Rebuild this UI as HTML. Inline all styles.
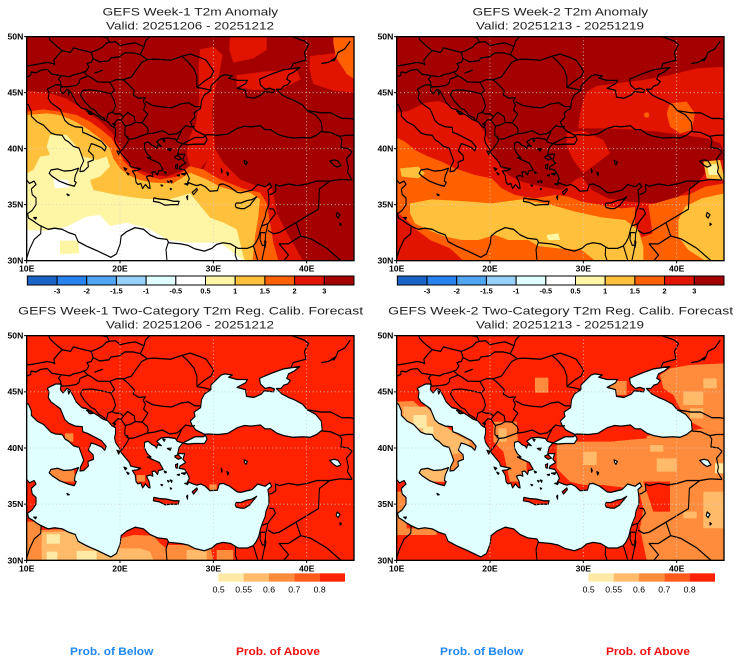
<!DOCTYPE html>
<html><head><meta charset="utf-8"><style>
html,body{margin:0;padding:0;background:#fff;}
svg{display:block;}
text{font-family:"Liberation Sans",Arial,sans-serif;}
</style></head><body>
<svg width="740" height="662" viewBox="0 0 2220 1986" xmlns="http://www.w3.org/2000/svg">
<defs>
<clipPath id="clipT"><rect x="80" y="110" width="982" height="672"/></clipPath>
<clipPath id="clipB"><rect x="80" y="122" width="982" height="674"/></clipPath>
<path id="med" fill-rule="evenodd" d="M9,44.3 L10.2,43.9 10.5,43.3 10.5,42.9 11.1,42.4 11.8,42.1 12.6,41.4 13.1,41.25 13.8,41.2 14.1,40.8 14.5,40.6 15.0,40.2 15.6,40.05 15.8,39.6 16.1,38.9 15.75,38.3 15.7,37.95 16.1,38.0 16.6,38.4 16.55,38.8 17.15,39.0 17.1,39.4 16.6,39.8 16.9,40.45 17.3,40.35 18.0,40.1 18.35,39.8 18.5,40.15 18.0,40.65 17.2,41.0 16.5,41.3 16.0,41.45 15.95,41.9 15.2,41.95 14.5,42.2 14.1,42.5 13.6,43.5 12.6,44.1 12.3,44.5 12.4,45.0 12.2,45.3 12.6,45.5 13.1,45.7 13.7,45.7 13.6,45.2 13.9,44.9 14.3,45.3 14.6,45.2 15.0,44.6 15.3,44.1 15.9,43.6 16.4,43.5 17.0,43.2 17.6,42.9 18.1,42.6 18.7,42.4 19.1,42.0 19.5,41.8 19.5,41.3 19.4,40.9 19.5,40.5 19.9,40.0 20.1,39.6 20.6,39.1 21.0,38.7 21.1,38.4 21.6,38.3 22.2,38.2 21.8,38.05 21.3,38.0 21.6,37.6 21.7,37.0 21.9,36.8 22.2,36.9 22.4,36.45 22.7,36.8 23.0,36.5 23.2,36.45 23.1,37.0 22.8,37.5 23.2,37.6 23.5,37.5 23.4,37.9 23.7,37.95 24.0,37.65 24.1,38.0 24.6,38.1 24.2,38.7 23.4,39.0 22.9,39.2 23.3,39.2 22.9,39.5 22.6,40.0 22.6,40.5 23.0,40.6 23.4,40.3 23.7,40.2 23.9,40.0 24.0,40.3 24.4,40.2 23.9,40.6 24.4,40.9 25.1,40.95 25.9,40.85 26.1,40.6 26.7,40.45 26.3,40.05 26.15,39.5 26.9,39.5 26.7,39.0 27.0,38.7 26.4,38.4 26.3,38.2 26.9,38.1 27.2,37.7 27.4,37.3 27.2,37.0 27.8,36.8 28.2,36.7 28.6,36.8 29.1,36.6 29.6,36.2 30.4,36.25 30.6,36.8 31.0,36.85 31.7,36.6 32.5,36.1 32.9,36.05 33.6,36.2 34.1,36.3 34.7,36.8 35.5,36.6 36.0,36.9 36.2,36.6 35.8,36.3 35.9,35.6 35.9,35.0 35.6,34.4 35.5,33.9 35.2,33.3 35.0,32.8 34.8,32.1 34.5,31.6 34.2,31.3 33.6,31.1 32.6,31.1 32.2,31.3 31.8,31.5 31.0,31.6 30.3,31.45 29.8,31.1 29.0,30.85 28.0,31.05 27.3,31.35 26.5,31.5 25.2,31.6 25.0,31.9 24.0,32.0 23.2,32.3 22.5,32.8 21.6,32.95 20.7,32.6 20.1,32.2 20.0,31.5 19.6,30.6 19.0,30.3 18.5,30.5 17.5,30.9 16.4,31.3 15.5,31.7 15.2,32.3 14.5,32.5 13.8,32.8 13.0,32.9 12.3,32.8 11.5,33.1 11.1,33.3 10.7,33.55 10.2,33.8 10.1,34.2 10.6,34.5 11.0,35.0 11.0,35.6 10.6,35.9 10.5,36.4 11.0,36.8 10.8,37.1 10.3,36.9 10.0,37.2 9,37.3 Z
M15.55,38.25 L15.2,37.6 15.1,37.1 15.3,37.0 15.1,36.65 14.4,36.8 13.5,37.1 12.7,37.55 12.4,37.8 12.6,38.1 13.3,38.2 14.0,38.0 14.8,38.05 Z
M23.55,35.3 L23.6,35.6 24.2,35.5 25.0,35.45 25.7,35.3 26.3,35.3 26.2,35.0 25.5,35.0 24.8,34.95 24.2,35.2 Z
M32.3,34.95 L32.4,35.15 32.9,35.15 33.5,35.35 34.1,35.45 34.6,35.7 34.0,35.1 33.9,34.95 33.3,34.65 32.9,34.65 32.4,34.75 Z
M27.7,36.1 L28.2,36.45 28.25,36.3 27.85,35.9 Z
M25.85,39.3 L26.2,39.4 26.55,39.1 26.2,39.0 25.85,39.2 Z
M25.9,38.5 L26.15,38.6 26.1,38.2 25.95,38.25 Z
M26.55,37.75 L27.0,37.8 26.9,37.65 Z
M25.05,39.95 L25.45,40.0 25.35,39.8 Z
M24.55,40.8 L24.8,40.75 24.7,40.6 Z
M26.9,36.85 L27.3,36.9 27.2,36.75 Z
M25.35,37.15 L25.55,37.1 25.5,36.95 Z
M24.7,37.95 L24.95,37.85 24.8,37.78 Z
M25.05,37.1 L25.25,37.05 25.15,36.98 Z
M25.35,36.45 L25.5,36.4 25.4,36.33 Z
M24.35,36.75 L24.55,36.72 24.45,36.65 Z
M27.1,35.7 L27.22,35.8 27.2,35.45 Z
M26.1,37.62 L26.35,37.66 26.3,37.56 Z
M20.4,38.3 L20.7,38.2 20.55,38.05 Z
M20.7,37.85 L20.95,37.75 20.85,37.65 Z
M19.65,39.8 L19.95,39.7 19.85,39.45 Z
M14.3,35.95 L14.55,35.85 14.4,35.82 Z
M10.75,33.85 L11.05,33.85 10.95,33.7 Z
M14.4,45.1 L14.6,45.0 14.5,44.8 Z
M16.4,43.35 L16.9,43.3 16.6,43.25 Z
M16.6,43.15 L17.1,43.1 16.8,43.05 Z"/>
<path id="bsea" d="M29.05,41.2 L28.1,41.6 27.7,42.0 27.5,42.4 28.0,42.8 27.9,43.2 28.6,43.6 28.7,44.3 29.0,44.8 29.7,45.2 29.7,45.6 30.3,46.1 30.8,46.5 31.2,46.6 32.0,46.5 31.6,46.3 32.5,46.1 33.6,46.1 33.4,45.8 32.5,45.4 33.4,45.2 33.5,44.6 34.3,44.5 35.1,44.8 35.4,45.1 36.4,45.0 36.5,45.25 36.0,45.4 35.5,45.3 35.0,45.7 34.9,46.2 35.3,46.35 36.3,46.7 37.5,47.05 38.3,47.15 39.2,47.25 38.6,46.85 38.0,46.6 37.8,46.2 38.2,46.0 37.9,45.7 37.5,45.6 37.2,45.3 36.7,45.3 37.3,44.8 38.0,44.5 38.6,44.3 39.5,43.9 40.0,43.4 40.9,43.0 41.5,42.4 41.6,41.6 41.0,41.2 40.3,40.95 39.5,41.0 38.5,40.95 37.5,41.1 36.8,41.3 36.1,41.7 35.5,41.7 35.0,42.05 34.0,41.95 33.3,42.0 32.5,41.8 31.5,41.3 30.5,41.2 29.3,41.25 Z
M26.7,40.45 L27.3,40.7 28.0,41.0 28.9,41.0 29.1,41.15 29.3,40.8 29.0,40.4 28.0,40.4 27.2,40.35 Z"/>
<path id="lakes" d="M42.4,38.9 L42.9,39.0 43.3,38.9 43.6,38.5 43.2,38.35 42.8,38.55 Z
M33.25,38.95 L33.6,38.8 33.45,38.55 33.3,38.7 Z
M31.4,37.9 L31.6,37.8 31.5,37.6 Z
M30.8,38.2 L30.92,38.0 30.85,37.85 Z
M43.2,34.3 L43.5,34.1 43.3,33.8 43.1,34.0 Z
M43.5,33.35 L43.65,33.25 43.5,33.15 Z
M17.3,46.75 L18.1,47.0 17.9,46.95 Z
M35.45,31.75 L35.58,31.7 35.5,31.2 Z
M19.2,42.2 L19.4,42.3 19.5,42.1 Z
M20.7,41.1 L20.82,41.1 20.75,40.9 Z
M42.6,47.9 L43.0,48.1 42.9,47.85 Z"/>
<path id="bord" fill="none" d="M10.0,46.4 L10.45,46.55 10.45,46.85 M10.45,46.85 L11.0,46.77 11.5,47.0 12.2,47.08 12.7,46.65 13.7,46.52 M13.7,46.52 L13.4,46.2 13.65,45.95 13.6,45.6
M9.6,47.55 L10.2,47.4 10.9,47.5 11.6,47.6 12.2,47.7 12.8,47.6 13.0,47.5 12.9,47.9 13.4,48.4 13.8,48.75
M13.8,48.75 L13.0,49.3 12.5,49.7 12.2,50.3 12.9,50.5 13.9,50.8 14.4,51.0 M14.8,50.9 L15.3,50.8 16.3,50.65 16.6,50.2 17.0,50.4 17.7,50.3 18.0,50.0 18.6,49.9 18.85,49.5
M13.8,48.75 L14.7,48.6 15.0,49.0 15.9,48.8 16.9,48.6
M16.9,48.6 L17.5,48.8 18.1,49.05 18.5,49.4 18.85,49.5
M18.85,49.5 L19.5,49.55 20.0,49.2 20.8,49.35 21.6,49.45 22.55,49.1
M16.9,48.6 L17.1,48.05 16.9,47.7 16.45,47.6 16.65,47.3 16.4,46.95 16.1,46.85
M13.7,46.52 L14.6,46.42 15.0,46.6 15.6,46.7 16.1,46.85 16.55,46.5
M16.55,46.5 L15.7,46.2 15.6,45.85 15.3,45.65 14.6,45.55 13.6,45.5
M17.1,48.05 L17.8,47.75 18.8,47.85 19.0,48.1 19.9,48.2 20.5,48.55 21.4,48.55 22.15,48.4
M22.15,48.4 L22.9,47.95 22.3,47.7 21.7,47.0 21.2,46.4 20.3,46.15
M20.3,46.15 L19.6,46.17 18.9,45.93 17.6,45.95 16.9,46.35 16.55,46.5
M18.9,45.93 L19.4,45.2 19.0,44.9
M19.0,44.9 L18.0,45.1 16.9,45.25 16.0,45.2 15.75,44.8 16.2,44.2 16.9,43.6 17.3,43.45 17.7,43.0 18.3,42.7 18.5,42.45
M19.0,44.9 L19.35,44.3 19.5,43.8 19.3,43.4 19.1,43.25
M19.1,43.25 L18.7,43.1 18.5,42.45
M19.1,43.25 L19.5,43.1 20.0,43.1 20.35,42.85 20.1,42.55
M20.1,42.55 L19.75,42.6 19.4,42.3 19.35,41.85
M20.35,42.85 L20.8,43.25 21.5,42.85 21.6,42.35
M20.1,42.55 L20.55,42.0
M20.55,42.0 L21.2,42.15 21.6,42.35 22.35,42.3
M22.35,42.3 L22.9,41.9 23.0,41.6 22.9,41.33
M22.9,41.33 L22.3,41.15 21.5,40.9 20.95,40.85
M20.95,40.85 L20.5,41.2 20.5,41.6 20.55,42.0
M20.95,40.85 L20.7,40.45 20.4,40.1 20.0,39.7
M20.3,46.15 L20.8,45.8 21.5,45.2 21.4,44.8 22.0,44.5 22.7,44.55 22.45,44.25
M22.45,44.25 L22.7,43.9 22.5,43.45 22.95,43.1 22.5,42.5 22.35,42.3
M22.7,44.2 L23.5,43.85 24.5,43.72 25.5,43.65 26.5,44.0 27.3,44.1 28.0,43.75 28.6,43.75
M22.9,47.95 L23.5,48.0 24.5,47.95 25.4,47.9 26.6,48.25
M26.6,48.25 L27.2,47.8 27.9,47.1 28.2,46.4 28.2,45.47
M26.6,48.25 L27.5,48.45 28.5,48.15 29.2,47.9 29.6,47.4 30.0,46.9 29.7,46.4 28.95,46.0 28.2,45.47
M28.2,45.47 L29.0,45.35 29.7,45.2
M22.55,49.1 L22.7,49.6 23.5,50.3 24.1,50.8 24.0,51.2
M22.55,49.1 L22.15,48.4
M35.3,51.0 L35.4,50.6 36.2,50.45 37.5,50.35 38.2,50.05 39.7,49.6 40.15,49.3 39.7,48.6 39.85,47.9 38.5,47.6 38.25,47.15
M22.9,41.33 L23.6,41.4 24.5,41.6 25.3,41.25 26.1,41.35 26.6,41.7
M26.6,41.7 L26.35,41.25 26.05,40.75
M26.6,41.7 L27.0,42.05 27.5,41.95 28.0,41.98
M41.55,41.52 L42.5,41.45 43.45,41.1
M43.45,41.1 L43.7,40.8 43.6,40.1 44.4,40.0 44.8,39.7
M40.0,43.4 L41.5,43.2 42.5,43.2 43.7,42.7 44.5,42.7 45.2,42.6
M43.45,41.1 L44.2,41.2 45.0,41.2 45.5,41.0 M45.0,41.2 L45.1,40.9 45.6,40.6
M44.8,39.7 L44.2,39.1 44.4,38.3 44.3,37.9 44.8,37.2
M44.8,37.2 L43.5,37.25 42.4,37.1
M42.4,37.1 L41.0,37.1 40.0,36.85 39.0,36.7 38.0,36.85 37.0,36.65 36.6,36.8 36.65,36.2 36.2,35.95 35.95,35.9
M42.4,37.1 L41.3,36.4 41.2,34.6 38.8,33.4
M38.8,33.4 L37.0,32.5 36.4,32.4 35.8,32.7
M35.95,34.65 L36.4,34.6 36.6,34.2 36.0,33.55 35.8,33.3
M35.1,33.1 L35.8,33.3 M35.8,33.3 L35.65,32.7
M35.65,32.7 L35.55,32.4 35.5,31.5 35.4,31.0 35.15,30.0 35.0,29.5
M35.5,32.5 L35.0,32.5 34.95,31.9 35.2,31.35 35.5,31.4
M38.8,33.4 L39.3,32.2
M39.3,32.2 L38.0,31.5 37.0,31.5 38.0,30.5 37.5,30.0 36.5,29.5
M39.3,32.2 L40.4,31.95 42.1,31.1 44.7,29.2
M34.25,31.3 L34.9,29.5
M25.15,31.65 L24.9,31.0 25.0,30.0 25.0,29.0
M11.55,33.15 L11.5,32.4 10.8,31.9 10.3,31.0 10.0,30.2
M32.35,31.25 L32.3,30.5 32.55,29.9 32.6,29.5
M41.5,47.6 L42.2,47.7 43.0,48.0 43.3,48.6 44.0,48.9 44.6,49.6"/>
<g id="geoLines" fill="none" stroke="#000" stroke-width="0.115" stroke-linejoin="round">
<use href="#med"/><use href="#bsea"/><use href="#lakes"/><use href="#bord"/>
</g>
<g id="geoFilled" stroke="#000" stroke-width="0.115" stroke-linejoin="round">
<use href="#med" fill="#e0ffff"/><use href="#bsea" fill="#e0ffff"/><use href="#lakes" fill="#e0ffff"/><use href="#bord" fill="none"/>
</g>
<g id="gridT" stroke="#cfcfcf" stroke-width="2.5" stroke-dasharray="3 8" fill="none">
<path d="M360,110V782M640,110V782M920,110V782M80,278H1062M80,446H1062M80,614H1062"/>
</g>
<g id="gridB" stroke="#cfcfcf" stroke-width="2.5" stroke-dasharray="3 8" fill="none">
<path d="M360,122V796M640,122V796M920,122V796M80,290.5H1062M80,459H1062M80,627.5H1062"/>
</g>
<g id="axT" font-size="26" font-weight="bold" fill="#000">
<path d="M72,110H80M72,278H80M72,446H80M72,614H80M72,782H80M80,782V790M360,782V790M640,782V790M920,782V790" stroke="#000" stroke-width="3"/>
<rect x="80" y="110" width="982" height="672" fill="none" stroke="#000" stroke-width="4"/>
<text x="70" y="119" text-anchor="end">50N</text>
<text x="70" y="287" text-anchor="end">45N</text>
<text x="70" y="455" text-anchor="end">40N</text>
<text x="70" y="623" text-anchor="end">35N</text>
<text x="70" y="791" text-anchor="end">30N</text>
<text x="80" y="814" text-anchor="middle">10E</text>
<text x="360" y="814" text-anchor="middle">20E</text>
<text x="640" y="814" text-anchor="middle">30E</text>
<text x="920" y="814" text-anchor="middle">40E</text>
</g>
<g id="axB" font-size="26" font-weight="bold" fill="#000">
<path d="M72,122H80M72,290.5H80M72,459H80M72,627.5H80M72,796H80M80,796V804M360,796V804M640,796V804M920,796V804" stroke="#000" stroke-width="3"/>
<rect x="80" y="122" width="982" height="674" fill="none" stroke="#000" stroke-width="4"/>
<text x="70" y="131" text-anchor="end">50N</text>
<text x="70" y="299" text-anchor="end">45N</text>
<text x="70" y="468" text-anchor="end">40N</text>
<text x="70" y="636" text-anchor="end">35N</text>
<text x="70" y="805" text-anchor="end">30N</text>
<text x="80" y="830" text-anchor="middle">10E</text>
<text x="360" y="830" text-anchor="middle">20E</text>
<text x="640" y="830" text-anchor="middle">30E</text>
<text x="920" y="830" text-anchor="middle">40E</text>
</g>
<g id="cbT">
<g stroke="#000" stroke-width="3">
<rect x="82" y="828" width="89.1" height="27" fill="#1a64c8"/>
<rect x="171.1" y="828" width="89.1" height="27" fill="#2882f0"/>
<rect x="260.2" y="828" width="89.1" height="27" fill="#50a5f5"/>
<rect x="349.3" y="828" width="89.1" height="27" fill="#96d2fa"/>
<rect x="438.4" y="828" width="89.1" height="27" fill="#e1ffff"/>
<rect x="527.5" y="828" width="89.1" height="27" fill="#ffffff"/>
<rect x="616.5" y="828" width="89.1" height="27" fill="#fff6a5"/>
<rect x="705.6" y="828" width="89.1" height="27" fill="#ffc03c"/>
<rect x="794.7" y="828" width="89.1" height="27" fill="#ff6000"/>
<rect x="883.8" y="828" width="89.1" height="27" fill="#e11400"/>
<rect x="972.9" y="828" width="89.1" height="27" fill="#a50000"/>
</g>
<g font-size="22" font-weight="bold" fill="#000" text-anchor="middle">
<text x="171.1" y="880">-3</text><text x="260.2" y="880">-2</text><text x="349.3" y="880">-1.5</text><text x="438.4" y="880">-1</text><text x="527.5" y="880">-0.5</text><text x="616.5" y="880">0.5</text><text x="705.6" y="880">1</text><text x="794.7" y="880">1.5</text><text x="883.8" y="880">2</text><text x="972.9" y="880">3</text>
</g>
</g>
<g id="cbB">
<rect x="655" y="835" width="76" height="25" fill="#ffeaa5"/>
<rect x="731" y="835" width="76" height="25" fill="#ffbb6a"/>
<rect x="807" y="835" width="76" height="25" fill="#ff8c3c"/>
<rect x="883" y="835" width="76" height="25" fill="#ff5a1a"/>
<rect x="959" y="835" width="76" height="25" fill="#ff2200"/>
<g font-size="26" fill="#000" text-anchor="middle">
<text x="656" y="892">0.5</text><text x="731" y="892">0.55</text><text x="807" y="892">0.6</text><text x="883" y="892">0.7</text><text x="959" y="892">0.8</text>
</g>
<text x="210" y="1080" font-size="32" font-weight="bold" fill="#2088f0" textLength="250" lengthAdjust="spacingAndGlyphs">Prob. of Below</text>
<text x="708" y="1080" font-size="32" font-weight="bold" fill="#f01010" textLength="252" lengthAdjust="spacingAndGlyphs">Prob. of Above</text>
</g>
</defs>

<!-- ============ TOP LEFT ============ -->
<g>
<text x="571" y="47" font-size="33" fill="#222" text-anchor="middle" textLength="527" lengthAdjust="spacingAndGlyphs">GEFS Week-1 T2m Anomaly</text>
<text x="570" y="89" font-size="33" fill="#222" text-anchor="middle" textLength="504" lengthAdjust="spacingAndGlyphs">Valid: 20251206 - 20251212</text>
<g clip-path="url(#clipT)">
<rect x="80" y="110" width="982" height="672" fill="#fff6a5"/>
<polygon fill="#ffffff" points="80,690 140,692 200,680 260,650 300,645 330,678 380,668 450,688 500,718 560,728 660,728 710,765 730,782 80,782"/>
<polygon fill="#ffffff" points="160,538 205,540 208,562 165,565"/>
<polygon fill="#fff6a5" points="180,722 235,722 238,760 180,762"/>
<polygon fill="#ffc03c" points="80,110 1062,110 1062,782 735,782 730,768 720,728 710,688 670,668 630,653 610,628 570,580 500,600 420,595 350,585 280,570 270,540 300,530 330,500 320,470 290,480 250,470 230,440 200,405 150,405 140,440 150,465 120,470 100,510 80,520"/>
<polygon fill="#ff6000" points="80,110 1062,110 1062,782 758,782 765,710 775,650 780,598 750,578 700,572 660,560 620,538 570,518 520,550 460,548 420,540 385,525 360,505 340,475 330,445 300,415 260,385 220,362 180,345 140,340 80,345"/>
<polygon fill="#e11400" points="80,110 1062,110 1062,782 835,782 820,728 810,668 800,608 780,578 730,566 660,538 610,508 570,498 530,530 480,538 430,525 395,505 372,485 355,450 335,415 305,390 270,365 230,345 180,335 130,328 80,335"/>
<polygon fill="#a50000" points="80,110 1065,110 1065,785 910,785 890,748 860,698 830,638 820,578 810,558 770,558 720,538 670,488 640,438 610,508 570,498 540,515 500,530 450,522 405,505 378,480 362,440 338,400 302,365 252,330 200,296 150,280 80,272"/>
<polygon fill="#e11400" points="600,148 640,140 668,165 658,220 642,280 636,340 642,400 645,440 622,480 602,505 570,498 560,460 565,420 588,370 598,300 596,200"/>
<polygon fill="#e11400" points="690,108 800,108 800,150 760,175 700,188 688,150"/>
<polygon fill="#e11400" points="710,225 790,215 890,208 902,238 850,265 760,270 710,260"/>
<polygon fill="#e11400" points="930,168 1000,160 1065,150 1065,278 1000,272 940,252 928,205"/>
<polygon fill="#ff6000" points="1000,108 1065,108 1065,238 1040,222 1008,172 1000,130"/>
<use href="#gridT"/>
<use href="#geoLines" transform="matrix(28.057 0 0 -33.6 -200.57 1790)"/>
</g>
<use href="#axT"/>
<use href="#cbT"/>
</g>

<!-- ============ TOP RIGHT ============ -->
<g transform="translate(1110,0)">
<text x="571" y="47" font-size="33" fill="#222" text-anchor="middle" textLength="527" lengthAdjust="spacingAndGlyphs">GEFS Week-2 T2m Anomaly</text>
<text x="570" y="89" font-size="33" fill="#222" text-anchor="middle" textLength="504" lengthAdjust="spacingAndGlyphs">Valid: 20251213 - 20251219</text>
<g clip-path="url(#clipT)">
<rect x="80" y="110" width="982" height="672" fill="#ff6000"/>
<polygon fill="#ffc03c" points="120,610 185,598 275,603 365,610 455,598 545,615 615,635 695,652 765,660 805,690 820,740 820,782 675,782 635,750 565,745 505,738 475,720 415,720 375,705 325,720 275,720 225,710 175,690 135,670 120,640"/>
<polygon fill="#ffc03c" points="90,505 145,500 165,520 145,535 95,530"/>
<polygon fill="#ffc03c" points="945,620 995,595 1065,580 1065,782 1005,782 955,750 925,710 925,660"/>
<polygon fill="#fff6a5" points="530,705 565,700 570,720 535,720"/>
<polygon fill="#e11400" points="80,635 110,660 140,690 180,720 240,745 280,782 80,782"/>
<polygon fill="#e11400" points="80,110 1065,110 1065,550 1005,560 955,585 905,590 855,610 805,620 755,625 695,615 635,605 595,590 555,585 495,595 435,585 395,565 365,535 315,525 255,505 215,485 175,470 135,450 105,425 80,413"/>
<polygon fill="#e11400" points="795,615 835,615 848,700 815,712 795,670"/>
<polygon fill="#a50000" points="80,110 1065,110 1065,200 980,205 900,225 820,240 740,250 680,258 650,275 640,300 630,340 625,385 700,385 780,388 860,395 940,405 1010,415 1050,430 1065,460 1065,480 1035,480 975,560 925,590 855,610 775,605 715,595 665,570 635,530 615,540 575,570 515,560 455,545 415,525 385,490 365,450 355,420 345,400 325,368 285,338 245,318 205,303 165,308 115,333 80,338"/>
<polygon fill="#e11400" points="590,400 640,392 700,420 720,460 680,490 640,520 610,480 590,440"/>
<polygon fill="#ff6000" points="900,310 950,305 975,340 965,390 930,400 900,380 890,340"/>
<circle cx="830" cy="345" r="8" fill="#ff6000"/>
<polygon fill="#ffc03c" points="1000,485 1050,480 1065,540 1010,535"/>
<polygon fill="#fff6a5" points="1012,495 1040,492 1045,525 1016,525"/>
<use href="#gridT"/>
<use href="#geoLines" transform="matrix(28.057 0 0 -33.6 -200.57 1790)"/>
</g>
<use href="#axT"/>
<use href="#cbT"/>
</g>

<!-- ============ BOTTOM LEFT ============ -->
<g transform="translate(0,885)">
<text x="572" y="58" font-size="33" fill="#222" text-anchor="middle" textLength="1035" lengthAdjust="spacingAndGlyphs">GEFS Week-1 Two-Category T2m Reg. Calib. Forecast</text>
<text x="570" y="100" font-size="33" fill="#222" text-anchor="middle" textLength="504" lengthAdjust="spacingAndGlyphs">Valid: 20251206 - 20251212</text>
<g clip-path="url(#clipB)">
<rect x="80" y="122" width="982" height="674" fill="#ff2200"/>
<polygon fill="#ff8c3c" points="80,680 125,680 125,705 240,700 300,715 340,735 400,720 460,722 480,745 500,760 500,796 80,796"/>
<polygon fill="#ffbb6a" points="125,712 230,708 290,722 330,745 360,760 420,760 450,770 460,796 125,796"/>
<rect x="140" y="718" width="40" height="28" fill="#ffeaa5"/>
<rect x="230" y="768" width="60" height="28" fill="#ffeaa5"/>
<rect x="140" y="770" width="32" height="26" fill="#ffeaa5"/>
<polygon fill="#ff8c3c" points="500,750 630,750 640,796 500,796"/>
<polygon fill="#ff8c3c" points="650,765 700,765 700,796 650,796"/>
<rect x="560" y="765" width="60" height="31" fill="#ffbb6a"/>
<polygon fill="#ff8c3c" points="150,520 220,520 230,560 150,560"/>
<rect x="195" y="415" width="25" height="25" fill="#ff8c3c"/>
<rect x="410" y="540" width="25" height="20" fill="#ff8c3c"/>
<rect x="628" y="568" width="22" height="22" fill="#ff8c3c"/>
<use href="#geoFilled" transform="matrix(28.057 0 0 -33.7 -200.57 1807)"/>
<use href="#gridB"/>
</g>
<use href="#axB"/>
<use href="#cbB"/>
</g>

<!-- ============ BOTTOM RIGHT ============ -->
<g transform="translate(1110,885)">
<text x="572" y="58" font-size="33" fill="#222" text-anchor="middle" textLength="1035" lengthAdjust="spacingAndGlyphs">GEFS Week-2 Two-Category T2m Reg. Calib. Forecast</text>
<text x="570" y="100" font-size="33" fill="#222" text-anchor="middle" textLength="504" lengthAdjust="spacingAndGlyphs">Valid: 20251213 - 20251219</text>
<g clip-path="url(#clipB)">
<rect x="80" y="122" width="982" height="674" fill="#ff2200"/>
<polygon fill="#ff8c3c" points="80,320 130,318 160,345 200,380 250,410 300,435 330,470 300,500 260,530 230,560 150,560 80,560"/>
<polygon fill="#ffbb6a" points="100,335 170,335 210,380 260,420 300,440 290,470 240,480 190,440 130,420 100,380"/>
<rect x="130" y="360" width="40" height="40" fill="#ffeaa5"/>
<rect x="160" y="395" width="30" height="25" fill="#ffeaa5"/>
<polygon fill="#ffbb6a" points="150,520 240,520 240,560 150,560"/>
<polygon fill="#ff8c3c" points="370,380 440,380 445,470 470,470 470,560 420,560 400,470 370,440"/>
<rect x="385" y="400" width="25" height="40" fill="#ffbb6a"/>
<rect x="495" y="248" width="40" height="45" fill="#ff8c3c"/>
<rect x="720" y="258" width="50" height="42" fill="#ff8c3c"/>
<polygon fill="#ff8c3c" points="870,240 900,220 960,210 1065,205 1065,420 1000,400 960,380 930,340 910,300 880,280"/>
<rect x="940" y="290" width="60" height="40" fill="#ffbb6a"/>
<rect x="1000" y="250" width="40" height="30" fill="#ffbb6a"/>
<rect x="960" y="340" width="40" height="30" fill="#ffbb6a"/>
<polygon fill="#ff8c3c" points="560,440 620,425 720,430 800,425 860,420 940,410 1000,400 1065,420 1065,796 830,796 810,700 820,640 810,600 780,580 700,570 640,570 600,560 560,520"/>
<polygon fill="#ff2200" points="600,405 830,400 830,430 720,440 620,440"/>
<polygon fill="#ff2200" points="820,560 900,560 900,650 850,650 840,620"/>
<rect x="1000" y="590" width="65" height="110" fill="#ffbb6a"/>
<rect x="940" y="650" width="40" height="20" fill="#ffbb6a"/>
<rect x="640" y="470" width="40" height="40" fill="#ffbb6a"/>
<rect x="860" y="490" width="60" height="40" fill="#ffbb6a"/>
<rect x="840" y="450" width="40" height="20" fill="#ffbb6a"/>
<rect x="1035" y="505" width="30" height="30" fill="#ffeaa5"/>
<polygon fill="#ff8c3c" points="80,590 110,590 110,700 200,700 200,720 80,720"/>
<use href="#geoFilled" transform="matrix(28.057 0 0 -33.7 -200.57 1807)"/>
<use href="#gridB"/>
</g>
<use href="#axB"/>
<use href="#cbB"/>
</g>
</svg>
</body></html>
